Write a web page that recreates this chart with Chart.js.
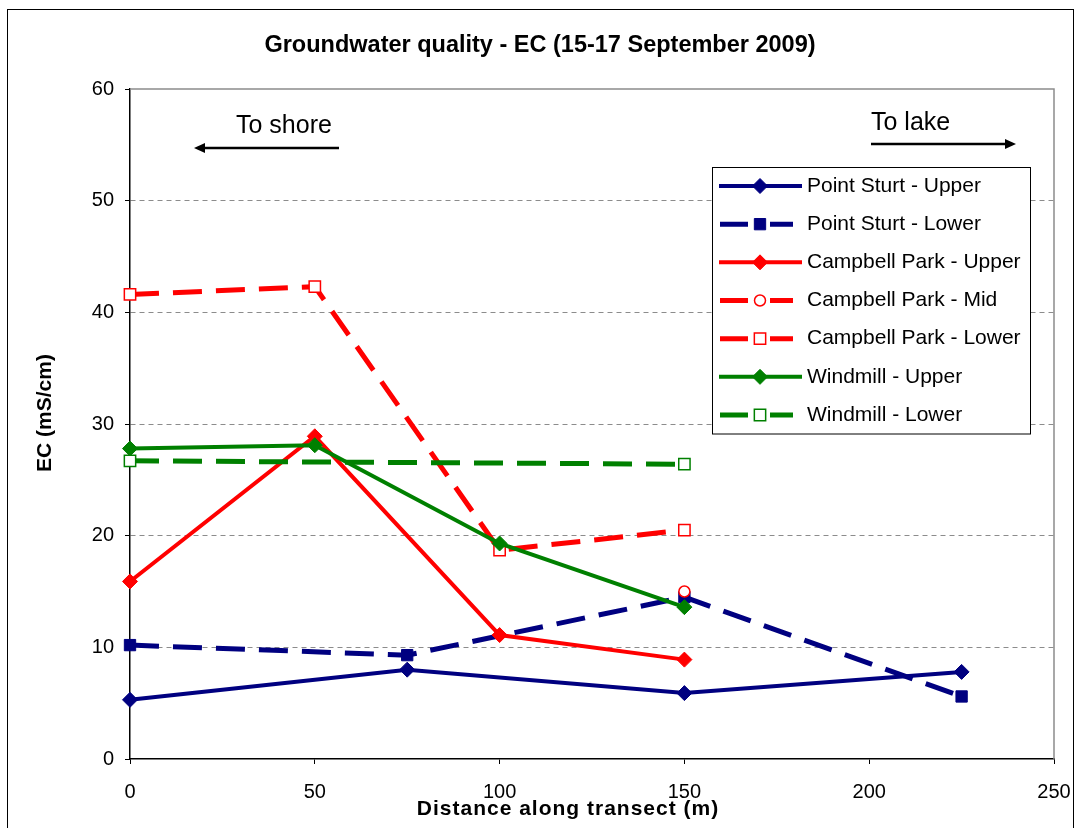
<!DOCTYPE html>
<html>
<head>
<meta charset="utf-8">
<title>Groundwater quality - EC</title>
<script src="https://cdn.jsdelivr.net/npm/chart.js@4.4.1/dist/chart.umd.min.js"></script>
<style>
  html, body { margin: 0; padding: 0; background: #fff; }
</style>
</head>
<body>
<canvas id="ecChart" width="1075" height="828"></canvas>
<script>
// distance along transect (m) and EC (mS/cm)
const psUpperX = [0, 75, 150, 225];
const psUpperEC = [5.3, 8.0, 5.9, 7.8];
const psLowerX = [0, 75, 150, 225];
const psLowerEC = [10.2, 9.3, 14.5, 5.6];
const cpUpperX = [0, 50, 100, 150];
const cpUpperEC = [15.9, 28.9, 11.1, 8.9];
const cpMidX = [150];
const cpMidEC = [15.0];
const cpLowerX = [0, 50, 100, 150];
const cpLowerEC = [41.6, 42.3, 18.7, 20.5];
const wmUpperX = [0, 50, 100, 150];
const wmUpperEC = [27.8, 28.1, 19.3, 13.6];
const wmLowerX = [0, 150];
const wmLowerEC = [26.7, 26.4];

const xTicks = [0, 50, 100, 150, 200, 250];
const yTicks = [0, 10, 20, 30, 40, 50, 60];

const FONT = '"Liberation Sans", Arial, sans-serif';
const NAVY = '#000080', RED = '#ff0000', GREEN = '#008000';

function pts(xs, ys) {
  return xs.map((x, i) => ({ x: x, y: ys[i] }));
}

function series(label, xs, ys, color, dashed, style, open, r) {
  return {
    label: label,
    data: pts(xs, ys),
    borderColor: color,
    backgroundColor: color,
    borderWidth: dashed ? 5 : 4,
    borderDash: dashed ? [29, 14] : [],
    pointStyle: style,
    pointRadius: r,
    pointHoverRadius: r,
    pointBackgroundColor: open ? '#fff' : color,
    pointBorderColor: color,
    pointBorderWidth: open ? 1.5 : 1,
    fill: false,
    tension: 0,
    clip: false
  };
}

const datasets = [
  series('Point Sturt - Upper', psUpperX, psUpperEC, NAVY, false, 'rectRot', false, 7.5),
  series('Point Sturt - Lower', psLowerX, psLowerEC, NAVY, true, 'rect', false, 8),
  series('Campbell Park - Upper', cpUpperX, cpUpperEC, RED, false, 'rectRot', false, 7.5),
  series('Campbell Park - Mid', cpMidX, cpMidEC, RED, true, 'circle', true, 5.5),
  series('Campbell Park - Lower', cpLowerX, cpLowerEC, RED, true, 'rect', true, 8),
  series('Windmill - Upper', wmUpperX, wmUpperEC, GREEN, false, 'rectRot', false, 7.5),
  series('Windmill - Lower', wmLowerX, wmLowerEC, GREEN, true, 'rect', true, 8)
];
// later series sit on top, as in the original
datasets.forEach((d, i) => { d.order = datasets.length - i; });

function drawMarker(ctx, style, r, x, y) {
  ctx.beginPath();
  if (style === 'rectRot') {
    ctx.moveTo(x - r, y); ctx.lineTo(x, y - r); ctx.lineTo(x + r, y); ctx.lineTo(x, y + r);
    ctx.closePath();
  } else if (style === 'rect') {
    const s = r * Math.SQRT1_2;
    ctx.rect(x - s, y - s, 2 * s, 2 * s);
  } else {
    ctx.arc(x, y, r, 0, Math.PI * 2);
  }
  ctx.fill();
  ctx.stroke();
}

function arrow(ctx, x1, x2, y) {
  const dir = x2 > x1 ? 1 : -1;
  ctx.beginPath();
  ctx.moveTo(x1, y);
  ctx.lineTo(x2 - dir * 8, y);
  ctx.stroke();
  ctx.beginPath();
  ctx.moveTo(x2, y);
  ctx.lineTo(x2 - dir * 11, y - 5);
  ctx.lineTo(x2 - dir * 11, y + 5);
  ctx.closePath();
  ctx.fill();
}

const decor = {
  id: 'decor',
  beforeDraw(chart) {
    const ctx = chart.ctx;
    ctx.save();
    ctx.fillStyle = '#fff';
    ctx.fillRect(0, 0, chart.width, chart.height);
    ctx.strokeStyle = '#000';
    ctx.lineWidth = 1;
    ctx.strokeRect(7.5, 9.5, 1066, 840);
    ctx.restore();
  },
  beforeDatasetsDraw(chart) {
    const ctx = chart.ctx, a = chart.chartArea;
    ctx.save();
    ctx.strokeStyle = '#8c8c8c';
    ctx.lineWidth = 1.5;
    ctx.beginPath();
    ctx.moveTo(a.left, a.top);
    ctx.lineTo(a.right, a.top);
    ctx.lineTo(a.right, a.bottom);
    ctx.stroke();
    ctx.restore();
  },
  afterDraw(chart) {
    const ctx = chart.ctx;
    ctx.save();
    ctx.fillStyle = '#000';
    ctx.strokeStyle = '#000';

    // title
    ctx.font = 'bold 23.5px ' + FONT;
    ctx.textAlign = 'center';
    ctx.textBaseline = 'middle';
    ctx.fillText('Groundwater quality - EC (15-17 September 2009)', 540, 46);

    // axis titles
    ctx.font = 'bold 21px ' + FONT;
    ctx.save();
    ctx.translate(45, 413);
    ctx.rotate(-Math.PI / 2);
    ctx.fillText('EC (mS/cm)', 0, 0);
    ctx.restore();
    ctx.save();
    ctx.letterSpacing = '1px';
    ctx.fillText('Distance along transect (m)', 568, 809);
    ctx.restore();

    // direction notes
    ctx.font = '25px ' + FONT;
    ctx.textAlign = 'left';
    ctx.fillText('To shore', 236, 126);
    ctx.fillText('To lake', 871, 123);
    ctx.lineWidth = 2.5;
    arrow(ctx, 339, 194, 148);
    arrow(ctx, 871, 1016, 144);

    // legend
    ctx.fillStyle = '#fff';
    ctx.fillRect(712.5, 167.5, 318, 266.5);
    ctx.strokeStyle = '#000';
    ctx.lineWidth = 1;
    ctx.strokeRect(712.5, 167.5, 318, 266.5);
    ctx.font = '21px ' + FONT;
    chart.data.datasets.forEach((d, i) => {
      const y = 186 + i * 38.17;
      ctx.strokeStyle = d.borderColor;
      ctx.lineWidth = d.borderWidth;
      ctx.setLineDash([]);
      ctx.beginPath();
      if (d.borderDash.length) {
        ctx.moveTo(720, y); ctx.lineTo(748, y);
        ctx.moveTo(770, y); ctx.lineTo(793, y);
      } else {
        ctx.moveTo(719, y); ctx.lineTo(802, y);
      }
      ctx.stroke();
      ctx.fillStyle = d.pointBackgroundColor;
      ctx.lineWidth = d.pointBorderWidth;
      drawMarker(ctx, d.pointStyle, d.pointRadius, 760, y);
      ctx.fillStyle = '#000';
      ctx.fillText(d.label, 807, y);
    });
    ctx.restore();
  }
};

new Chart(document.getElementById('ecChart'), {
  type: 'line',
  data: { datasets: datasets },
  plugins: [decor],
  options: {
    responsive: false,
    animation: false,
    layout: { padding: { top: 89, right: 21, bottom: 0, left: 0 } },
    plugins: {
      legend: { display: false },
      tooltip: { enabled: false },
      title: { display: false }
    },
    scales: {
      x: {
        type: 'linear',
        min: xTicks[0],
        max: xTicks[xTicks.length - 1],
        afterFit(scale) { scale.height = 69; scale.paddingLeft = 0; scale.paddingRight = 0; },
        afterBuildTicks(scale) { scale.ticks = xTicks.map(v => ({ value: v })); },
        grid: { drawOnChartArea: false, tickLength: 5, tickColor: '#000', color: '#000' },
        border: { color: '#000', width: 1.5 },
        ticks: { color: '#000', padding: 16, maxRotation: 0, font: { family: FONT, size: 20 } }
      },
      y: {
        min: yTicks[0],
        max: yTicks[yTicks.length - 1],
        afterFit(scale) { scale.width = 130; },
        afterBuildTicks(scale) { scale.ticks = yTicks.map(v => ({ value: v })); },
        grid: {
          tickLength: 5,
          tickColor: '#000',
          color: c => (c.tick && (c.tick.value === yTicks[0] || c.tick.value === yTicks[yTicks.length - 1])) ? 'rgba(0,0,0,0)' : '#8c8c8c'
        },
        border: { color: '#000', width: 1.5, dash: [5, 4] },
        ticks: { color: '#000', padding: 11, font: { family: FONT, size: 20 } }
      }
    }
  }
});
</script>
</body>
</html>
